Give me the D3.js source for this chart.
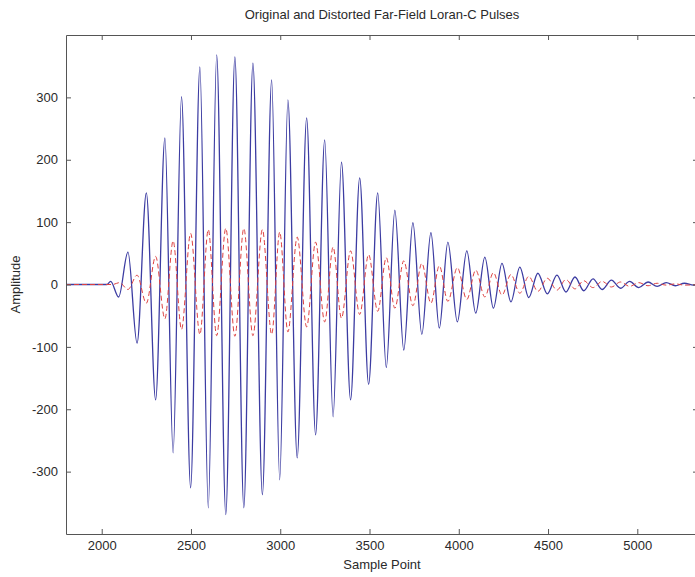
<!DOCTYPE html>
<html>
<head>
<meta charset="utf-8">
<script src="https://cdn.jsdelivr.net/npm/d3@7"></script>
<style>
  html, body { margin: 0; padding: 0; background: #fff; }
  svg { display: block; }
  text { font-family: "Liberation Sans", Arial, sans-serif; fill: #2a2a2a; }
</style>
</head>
<body>
<svg id="chart" width="695" height="577"></svg>
<script>
// ---- data ----
const chartTitle = "Original and Distorted Far-Field Loran-C Pulses";
const xLabel = "Sample Point";
const yLabel = "Amplitude";
const xTicks = [2000, 2500, 3000, 3500, 4000, 4500, 5000];
const yTicks = [-300, -200, -100, 0, 100, 200, 300];
const xDomain = [1800, 5340];
const yDomain = [-400, 400];

// original pulse: alternating extremes (sample point, amplitude)
const originalSamples = [1800, 2030, 2050, 2095, 2147, 2198, 2250, 2302, 2354, 2400, 2447, 2498, 2550, 2597, 2644, 2695, 2746, 2796, 2847, 2900, 2952, 2997, 3043, 3095, 3148, 3198, 3249, 3296, 3343, 3394, 3445, 3495, 3546, 3594, 3642, 3692, 3743, 3793, 3844, 3891, 3939, 3992, 4045, 4095, 4146, 4194, 4242, 4292, 4342, 4392, 4443, 4496, 4550, 4600, 4651, 4700, 4752, 4803, 4855, 4906, 4957, 5008, 5060, 5111, 5162, 5213, 5264, 5315, 5340];
const originalValues  = [0, 0, 5, -20, 52, -94, 147, -185, 235, -270, 301, -326, 349, -358, 368, -369, 365, -358, 355, -337, 328, -313, 296, -278, 267, -241, 232, -212, 196, -185, 171, -160, 147, -133, 119, -105, 99, -80, 83, -70, 68, -60, 54, -46, 44, -38, 34, -28, 28, -21, 18, -15, 15, -12, 12, -10, 9, -8, 7, -6, 5, -5, 4, -3, 3, -2, 2, -1, 0];

// distorted pulse: alternating extremes (sample point, amplitude)
const distortedSamples = [1800, 2060, 2100, 2147, 2198, 2250, 2302, 2354, 2400, 2447, 2498, 2550, 2597, 2644, 2695, 2746, 2796, 2847, 2900, 2952, 2997, 3043, 3095, 3148, 3198, 3249, 3296, 3343, 3394, 3445, 3495, 3546, 3594, 3642, 3692, 3743, 3793, 3844, 3891, 3939, 3992, 4045, 4095, 4146, 4194, 4242, 4292, 4342, 4392, 4443, 4496, 4550, 4600, 4651, 4700, 4752, 4803, 4855, 4906, 4957, 5008, 5060, 5111, 5162, 5213, 5264, 5340];
const distortedValues  = [0, 0, 3, -8, 15, -30, 45, -55, 70, -72, 82, -80, 88, -82, 90, -83, 90, -82, 88, -80, 84, -76, 76, -68, 68, -60, 60, -54, 54, -48, 48, -43, 43, -38, 38, -34, 34, -30, 30, -27, 27, -24, 23, -20, 19, -17, 16, -14, 13, -11, 10, -9, 8, -7, 6, -5, 5, -4, 4, -3, 3, -2, 2, -1, 1, -1, 0];

// ---- layout ----
const svg = d3.select("#chart");
const margin = { left: 66, top: 35 };
const plotW = 632, plotH = 499;

const x = d3.scaleLinear().domain(xDomain).range([margin.left, margin.left + plotW]);
const y = d3.scaleLinear().domain(yDomain).range([margin.top + plotH, margin.top]);

svg.append("defs").append("clipPath").attr("id", "clip")
  .append("rect").attr("x", margin.left).attr("y", margin.top).attr("width", plotW).attr("height", plotH);

const lineGen = d3.line().x(d => x(d[0])).y(d => y(d[1])).curve(d3.curveMonotoneX);

const original = d3.zip(originalSamples, originalValues);
const distorted = d3.zip(distortedSamples, distortedValues);

const plot = svg.append("g").attr("clip-path", "url(#clip)");
plot.append("path").datum(original)
  .attr("d", lineGen).attr("fill", "none")
  .attr("stroke", "#3c3ca2").attr("stroke-width", 1.3);
plot.append("path").datum(distorted)
  .attr("d", lineGen).attr("fill", "none")
  .attr("stroke", "#dd4040").attr("stroke-width", 1).attr("stroke-dasharray", "5,3");

// ---- axes (box with inward ticks) ----
const axisColor = "#555";
const fmt = d => String(d);
function styleAxis(g) {
  g.selectAll(".domain").attr("stroke", axisColor);
  g.selectAll(".tick line").attr("stroke", axisColor);
  g.selectAll("text").style("font-size", "13px").attr("fill", "#2a2a2a");
}
svg.append("g").attr("transform", `translate(0,${margin.top + plotH})`)
  .call(d3.axisBottom(x).tickValues(xTicks).tickFormat(fmt).tickSizeInner(-5).tickSizeOuter(0).tickPadding(7))
  .call(styleAxis);
svg.append("g").attr("transform", `translate(0,${margin.top})`)
  .call(d3.axisTop(x).tickValues(xTicks).tickFormat("").tickSizeInner(-5).tickSizeOuter(0))
  .call(styleAxis);
svg.append("g").attr("transform", `translate(${margin.left},0)`)
  .call(d3.axisLeft(y).tickValues(yTicks).tickFormat(fmt).tickSizeInner(-5).tickSizeOuter(0).tickPadding(8))
  .call(styleAxis);
svg.append("g").attr("transform", `translate(${margin.left + plotW},0)`)
  .call(d3.axisRight(y).tickValues(yTicks).tickFormat("").tickSizeInner(-5).tickSizeOuter(0))
  .call(styleAxis);

// ---- labels ----
const cx = margin.left + plotW / 2;
svg.append("text").attr("x", cx).attr("y", 19).attr("text-anchor", "middle")
  .style("font-size", "13px").text(chartTitle);
svg.append("text").attr("x", cx).attr("y", 569).attr("text-anchor", "middle")
  .style("font-size", "13px").text(xLabel);
svg.append("text").attr("transform", `translate(20,${margin.top + plotH / 2}) rotate(-90)`)
  .attr("text-anchor", "middle").style("font-size", "13px").text(yLabel);
</script>
</body>
</html>
